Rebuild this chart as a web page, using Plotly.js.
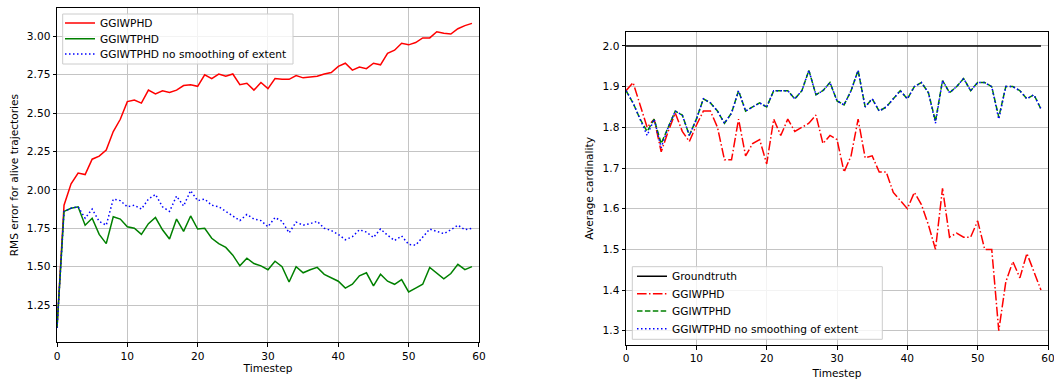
<!DOCTYPE html>
<html><head><meta charset="utf-8">
<script src="https://cdn.plot.ly/plotly-3.0.1.min.js"></script>
<style>html,body{margin:0;padding:0;background:#fff}#chart{width:1054px;height:381px}</style>
</head><body><div id="chart"></div>
<script>
const timesteps = [0,1,2,3,4,5,6,7,8,9,10,11,12,13,14,15,16,17,18,19,20,21,22,23,24,25,26,27,28,29,30,31,32,33,34,35,36,37,38,39,40,41,42,43,44,45,46,47,48,49,50,51,52,53,54,55,56,57,58,59];

const rmsGGIWPHD = [1.10,1.90,2.04,2.11,2.10,2.20,2.22,2.26,2.38,2.46,
  2.575,2.585,2.565,2.65,2.625,2.645,2.635,2.65,2.68,2.685,
  2.675,2.75,2.725,2.755,2.74,2.755,2.685,2.695,2.65,2.70,
  2.66,2.725,2.72,2.72,2.745,2.73,2.735,2.74,2.755,2.765,
  2.805,2.825,2.78,2.80,2.79,2.825,2.815,2.89,2.91,2.955,
  2.945,2.96,2.99,2.99,3.03,3.02,3.015,3.05,3.07,3.085];
const rmsGGIWTPHD = [1.10,1.86,1.88,1.89,1.77,1.815,1.71,1.65,1.825,1.81,
  1.76,1.75,1.71,1.78,1.82,1.74,1.68,1.81,1.73,1.83,
  1.745,1.75,1.685,1.65,1.625,1.575,1.505,1.555,1.52,1.505,
  1.48,1.535,1.50,1.40,1.50,1.46,1.48,1.495,1.45,1.425,
  1.405,1.36,1.385,1.44,1.46,1.375,1.45,1.405,1.385,1.415,
  1.335,1.36,1.385,1.495,1.455,1.42,1.455,1.515,1.48,1.50];
const rmsNoSmoothing = [1.10,1.86,1.88,1.89,1.815,1.875,1.795,1.77,1.94,1.93,
  1.89,1.90,1.875,1.94,1.97,1.89,1.86,1.96,1.895,1.995,
  1.93,1.94,1.90,1.89,1.86,1.83,1.80,1.84,1.81,1.80,
  1.76,1.82,1.795,1.72,1.79,1.77,1.78,1.795,1.75,1.735,
  1.71,1.675,1.695,1.74,1.725,1.69,1.745,1.705,1.67,1.70,
  1.645,1.64,1.69,1.745,1.73,1.715,1.74,1.77,1.74,1.75];

const cardGroundtruth = [2,2,2,2,2,2,2,2,2,2,2,2,2,2,2,2,2,2,2,2,2,2,2,2,2,2,2,2,2,2,
  2,2,2,2,2,2,2,2,2,2,2,2,2,2,2,2,2,2,2,2,2,2,2,2,2,2,2,2,2,2];
const cardGGIWPHD = [1.89,1.91,1.855,1.80,1.82,1.74,1.79,1.835,1.79,1.765,
  1.805,1.84,1.84,1.80,1.72,1.72,1.82,1.73,1.76,1.77,
  1.71,1.82,1.78,1.82,1.79,1.80,1.81,1.83,1.76,1.78,
  1.77,1.69,1.73,1.82,1.725,1.73,1.69,1.69,1.64,1.62,
  1.60,1.64,1.61,1.56,1.50,1.65,1.53,1.54,1.53,1.53,
  1.57,1.50,1.50,1.30,1.42,1.47,1.43,1.49,1.445,1.40];
const cardGGIWTPHD = [1.89,1.86,1.82,1.79,1.82,1.76,1.80,1.84,1.83,1.78,
  1.82,1.87,1.86,1.84,1.81,1.835,1.89,1.84,1.85,1.86,
  1.85,1.89,1.89,1.89,1.87,1.89,1.94,1.88,1.89,1.91,
  1.865,1.855,1.89,1.94,1.85,1.87,1.84,1.85,1.87,1.89,
  1.87,1.90,1.91,1.885,1.815,1.915,1.885,1.90,1.92,1.89,
  1.91,1.91,1.90,1.825,1.90,1.90,1.89,1.87,1.88,1.845];
const cardNoSmoothing = [1.89,1.86,1.82,1.78,1.82,1.75,1.80,1.84,1.83,1.78,
  1.82,1.87,1.86,1.84,1.81,1.835,1.89,1.84,1.85,1.86,
  1.85,1.89,1.89,1.89,1.87,1.89,1.94,1.88,1.89,1.91,
  1.865,1.855,1.89,1.94,1.85,1.87,1.84,1.85,1.87,1.89,
  1.87,1.90,1.91,1.885,1.81,1.915,1.885,1.90,1.92,1.89,
  1.91,1.91,1.90,1.82,1.90,1.90,1.89,1.87,1.88,1.845];

const FONT = {family: 'DejaVu Sans, sans-serif', size: 10.6, color: '#000'};
const DOT = '1.5px,2.5px', DASH = '5.5px,2.4px', DASHDOT = '9.6px,2.4px,1.5px,2.4px';

const traces = [
  {x: timesteps, y: rmsGGIWPHD, name: 'GGIWPHD', mode: 'lines', line: {color: '#ff0000', width: 1.5}, xaxis: 'x', yaxis: 'y', legend: 'legend'},
  {x: timesteps, y: rmsGGIWTPHD, name: 'GGIWTPHD', mode: 'lines', line: {color: '#008000', width: 1.5}, xaxis: 'x', yaxis: 'y', legend: 'legend3'},
  {x: timesteps, y: rmsNoSmoothing, name: 'GGIWTPHD no smoothing of extent', mode: 'lines', line: {color: '#0000ff', width: 1.5, dash: DOT}, xaxis: 'x', yaxis: 'y', legend: 'legend4'},
  {x: timesteps, y: cardGroundtruth, name: 'Groundtruth', mode: 'lines', line: {color: '#000000', width: 1.5}, xaxis: 'x2', yaxis: 'y2', legend: 'legend2'},
  {x: timesteps, y: cardGGIWPHD, name: 'GGIWPHD', mode: 'lines', line: {color: '#ff0000', width: 1.5, dash: DASHDOT}, xaxis: 'x2', yaxis: 'y2', legend: 'legend5'},
  {x: timesteps, y: cardGGIWTPHD, name: 'GGIWTPHD', mode: 'lines', line: {color: '#008000', width: 1.5, dash: DASH}, xaxis: 'x2', yaxis: 'y2', legend: 'legend6'},
  {x: timesteps, y: cardNoSmoothing, name: 'GGIWTPHD no smoothing of extent', mode: 'lines', line: {color: '#0000ff', width: 1.5, dash: DOT}, xaxis: 'x2', yaxis: 'y2', legend: 'legend7'}
];

const axCommon = {
  showline: true, mirror: true, linecolor: '#000', linewidth: 1,
  ticks: 'outside', ticklen: 3.5, tickwidth: 1, tickcolor: '#000',
  showgrid: true, gridcolor: '#c4c4c4', gridwidth: 1, zeroline: false,
  tickfont: FONT, ticklabeloverflow: 'allow'
};

// paper geometry helpers (plot area: left 57px, width 991px, bottom 345px, height 337px)
const px2x = p => (p - 57) / 991;
const px2y = p => (345 - p) / 337;

function itemLegend(xp, yp) {
  return {x: px2x(xp), y: px2y(yp), xanchor: 'left', yanchor: 'middle',
    bgcolor: 'rgba(0,0,0,0)', borderwidth: 0, font: FONT, traceorder: 'normal'};
}

const layout = {
  width: 1054, height: 381,
  margin: {l: 57, r: 6, t: 8, b: 36},
  paper_bgcolor: '#fff', plot_bgcolor: '#fff',
  font: FONT,
  showlegend: true,
  xaxis: Object.assign({}, axCommon, {domain: [0, 0.4258], range: [0, 60], dtick: 10, tick0: 0, anchor: 'y',
    title: {text: 'Timestep', font: FONT, standoff: 4}}),
  yaxis: Object.assign({}, axCommon, {domain: [0.008, 1], range: [1.007, 3.185], dtick: 0.25, tick0: 0, tickformat: '.2f', anchor: 'x',
    title: {text: 'RMS error for alive trajectories', font: FONT, standoff: 6}}),
  xaxis2: Object.assign({}, axCommon, {domain: [0.5742, 1], range: [0, 60], dtick: 10, tick0: 0, anchor: 'y2',
    title: {text: 'Timestep', font: FONT, standoff: 6}}),
  yaxis2: Object.assign({}, axCommon, {domain: [0, 0.9297], range: [1.265, 2.035], dtick: 0.1, tick0: 0, tickformat: '.1f', anchor: 'x2',
    title: {text: 'Average cardinality', font: FONT, standoff: 6}}),
  legend: itemLegend(60, 23),
  legend3: itemLegend(60, 38.7),
  legend4: itemLegend(60, 54),
  legend2: itemLegend(632, 276.3),
  legend5: itemLegend(632, 293.7),
  legend6: itemLegend(632, 311),
  legend7: itemLegend(632, 328.7),
  shapes: [
    {type: 'rect', xref: 'paper', yref: 'paper', layer: 'above',
      x0: px2x(62.7), x1: px2x(293), y0: px2y(64), y1: px2y(14),
      fillcolor: 'rgba(255,255,255,0.8)', line: {color: '#cccccc', width: 1}},
    {type: 'rect', xref: 'paper', yref: 'paper', layer: 'above',
      x0: px2x(632.3), x1: px2x(882.3), y0: px2y(339.3), y1: px2y(266.7),
      fillcolor: 'rgba(255,255,255,0.8)', line: {color: '#cccccc', width: 1}}
  ]
};

Plotly.newPlot('chart', traces, layout, {displayModeBar: false, staticPlot: true});
</script>
</body></html>
